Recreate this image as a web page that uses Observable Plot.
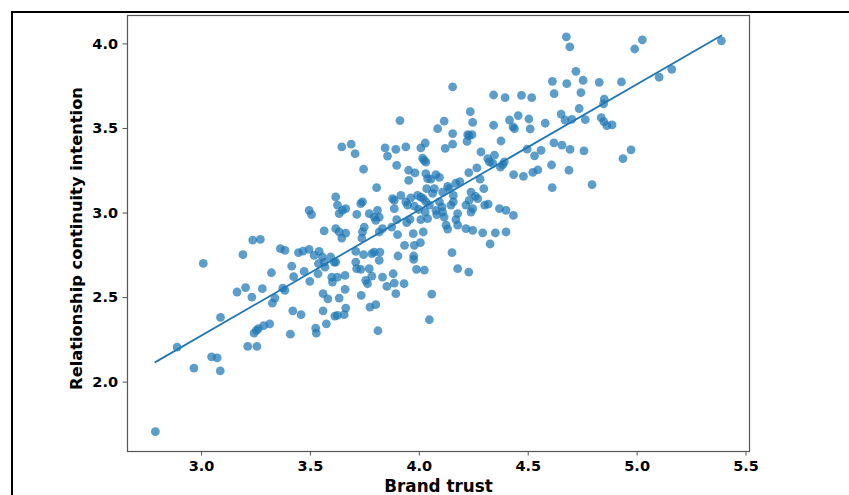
<!DOCTYPE html>
<html>
<head>
<meta charset="utf-8">
<script src="https://cdn.jsdelivr.net/npm/d3@7"></script>
<script src="https://cdn.jsdelivr.net/npm/@observablehq/plot@0.6"></script>
<style>
  html, body { margin: 0; padding: 0; background: #fff; }
  #wrap { position: relative; width: 849px; height: 495px; overflow: hidden; }
  #border { position: absolute; left: 11px; top: 11px; right: -10px; bottom: -10px;
            border-top: 2px solid #000; border-left: 2px solid #000; pointer-events: none; }
</style>
</head>
<body>
<div id="wrap"><div id="border"></div></div>
<script>
const xLabel = "Brand trust";
const yLabel = "Relationship continuity intention";
const xTicks = [3.0, 3.5, 4.0, 4.5, 5.0, 5.5];
const yTicks = [2.0, 2.5, 3.0, 3.5, 4.0];

const brandTrust = [
2.788,2.888,2.965,3.046,3.072,3.086,3.008,3.087,3.190,3.235,3.270,3.163,3.202,3.231,3.279,3.321,3.212,3.254,3.241,3.252,
3.261,3.285,3.313,3.325,3.337,3.373,3.383,3.362,3.383,3.414,3.423,3.445,3.466,3.494,3.471,3.497,3.419,3.457,3.408,3.524,
3.527,3.558,3.573,3.558,3.580,3.612,3.535,3.540,3.517,3.555,3.537,3.567,3.593,3.598,3.601,
3.644,3.736,3.616,3.708,3.744,3.782,3.793,3.819,3.816,3.712,3.731,3.770,3.782,3.754,3.762,3.659,3.624,3.659,3.632,3.733,
3.662,3.655,3.624,3.773,3.800,3.810,3.831,3.851,3.880,3.885,3.892,3.930,3.902,3.932,3.974,3.974,3.977,4.005,3.987,4.023,
4.057,4.046,4.150,4.176,4.227,4.325,
4.153,3.911,3.644,3.687,3.705,3.744,3.843,3.854,3.892,3.938,3.896,3.804,4.007,4.027,4.015,4.022,4.030,3.951,3.980,3.951,
4.030,4.038,4.053,4.076,4.092,4.084,4.114,4.153,4.153,4.119,4.234,4.245,4.222,4.229,4.242,4.219,4.283,4.341,4.394,4.469,
4.516,4.341,4.375,4.414,4.430,4.437,4.454,4.503,4.509,4.495,4.529,4.314,4.322,4.337,4.345,4.372,4.383,4.390,4.227,4.264,
4.279,4.433,4.478,4.521,4.296,4.237,4.167,4.186,4.130,4.137,4.156,4.107,4.069,4.034,3.992,4.007,4.018,3.961,3.938,3.946,
3.915,3.877,3.885,3.977,3.997,4.030,4.046,4.061,4.092,4.104,4.145,4.156,4.214,4.229,4.257,4.268,4.300,4.316,4.368,4.398,
4.432,4.245,4.237,4.176,4.168,4.176,4.107,4.114,4.027,4.038,4.076,4.080,4.007,3.957,3.942,3.896,3.873,3.808,3.816,3.770,
3.793,3.800,3.739,3.731,3.713,3.662,3.647,3.632,3.624,3.616,3.747,3.739,3.816,3.831,3.616,3.632,3.900,3.972,4.018,4.123,
4.130,4.214,4.245,4.291,4.349,4.398,
4.675,4.691,4.989,5.024,5.387,4.719,4.611,4.677,4.752,4.826,4.928,5.101,5.159,4.619,4.742,4.849,4.846,4.734,4.651,4.669,
4.700,4.762,4.835,4.847,4.861,4.885,4.578,4.618,4.655,4.692,4.559,4.756,4.972,4.935,4.544,4.607,4.687,4.610,4.793,
3.494,3.505,3.563,3.662,3.563,3.609,3.708,3.885
];
const continuityIntention = [
1.708,2.207,2.083,2.150,2.144,2.067,2.702,2.383,2.754,2.840,2.844,2.533,2.559,2.503,2.553,2.647,2.211,2.211,2.290,2.306,
2.316,2.334,2.345,2.467,2.497,2.556,2.543,2.789,2.779,2.686,2.624,2.766,2.775,2.785,2.655,2.596,2.422,2.399,2.284,2.320,
2.290,2.422,2.345,2.523,2.493,2.391,2.641,2.773,2.750,2.740,2.701,2.680,2.740,2.621,2.592,
2.852,2.852,2.710,2.773,2.754,2.760,2.769,2.769,2.720,2.671,2.667,2.671,2.627,2.602,2.582,2.631,2.621,2.549,2.497,2.513,
2.438,2.399,2.395,2.444,2.458,2.304,2.621,2.566,2.641,2.586,2.523,2.582,2.746,2.809,2.746,2.726,2.809,2.825,2.667,2.663,
2.521,2.369,2.766,2.671,2.651,2.817,
3.746,3.547,3.391,3.407,3.351,3.259,3.385,3.337,3.377,3.391,3.282,3.150,3.385,3.414,3.325,3.311,3.301,3.253,3.237,3.193,
3.233,3.204,3.200,3.227,3.211,3.499,3.544,3.470,3.407,3.382,3.599,3.536,3.463,3.457,3.463,3.424,3.361,3.698,3.682,3.696,
3.682,3.519,3.426,3.550,3.510,3.499,3.576,3.556,3.497,3.378,3.338,3.322,3.302,3.293,3.342,3.272,3.286,3.302,3.239,3.267,
3.200,3.227,3.217,3.241,3.144,3.124,3.176,3.186,3.158,3.144,3.104,3.124,3.144,3.144,3.104,3.094,3.085,3.090,3.066,3.047,
3.104,3.085,3.075,3.041,3.021,3.066,3.047,3.116,3.066,3.036,3.047,3.066,3.047,3.075,3.100,3.085,3.047,3.053,3.026,3.016,
2.986,3.026,3.006,2.997,2.961,2.928,3.006,2.976,3.006,2.967,3.016,2.991,2.961,2.963,2.943,2.961,2.917,3.016,2.976,2.997,
2.976,2.957,3.066,3.056,2.992,3.026,3.016,2.997,3.047,3.095,2.917,2.888,2.888,2.908,2.908,2.888,2.872,2.878,2.888,2.928,
2.905,2.908,2.898,2.883,2.883,2.888,
4.042,3.983,3.970,4.024,4.018,3.838,3.779,3.765,3.785,3.773,3.775,3.803,3.850,3.706,3.712,3.674,3.646,3.618,3.585,3.550,
3.554,3.552,3.564,3.541,3.517,3.521,3.531,3.415,3.401,3.376,3.371,3.367,3.374,3.322,3.255,3.284,3.253,3.150,3.168,
3.016,2.991,2.894,2.881,2.710,2.710,2.710,3.026
];

const data = brandTrust.map((x, i) => ({x, y: continuityIntention[i]}));
const blue = "#1f77b4";
const fmt = d => d.toFixed(1);

const chart = Plot.plot({
  width: 849,
  height: 495,
  marginLeft: 127,
  marginTop: 15,
  marginRight: 100,
  marginBottom: 44,
  style: {fontFamily: "'DejaVu Sans', sans-serif", fontWeight: "bold", fontSize: "14px", color: "#000", background: "transparent"},
  x: {domain: [2.66, 5.516]},
  y: {domain: [1.59, 4.168]},
  marks: [
    Plot.dot(data, {x: "x", y: "y", r: 4.4, fill: blue, fillOpacity: 0.72, stroke: null}),
    Plot.linearRegressionY(data, {x: "x", y: "y", stroke: blue, strokeWidth: 1.8, ci: 0}),
    Plot.frame({stroke: "#555", strokeWidth: 1.2}),
    Plot.axisX({ticks: xTicks, tickFormat: fmt, tickSize: 4.5, tickPadding: 5, stroke: "#555", label: null, fontSize: 14.5, fontWeight: "bold", fill: "#000"}),
    Plot.axisY({ticks: yTicks, tickFormat: fmt, tickSize: 4.5, tickPadding: 5, stroke: "#555", label: null, fontSize: 14.5, fontWeight: "bold", fill: "#000"}),
    Plot.text([xLabel], {frameAnchor: "bottom", dy: 40, lineAnchor: "bottom", textAnchor: "middle", fontSize: 16.8, fontWeight: "bold", fill: "#000"}),
    Plot.text([yLabel], {frameAnchor: "left", dx: -57, dy: 5, rotate: -90, lineAnchor: "top", textAnchor: "middle", fontSize: 16.3, fontWeight: "bold", fill: "#000"})
  ]
});
document.getElementById("wrap").insertBefore(chart, document.getElementById("border"));
</script>
</body>
</html>
